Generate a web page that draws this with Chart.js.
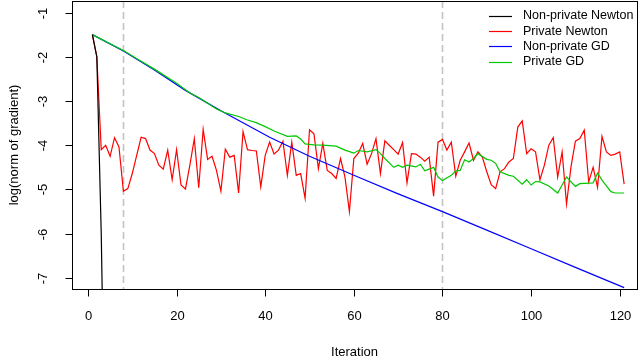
<!DOCTYPE html>
<html>
<head>
<meta charset="utf-8">
<script src="https://cdn.jsdelivr.net/npm/chart.js@4/dist/chart.umd.min.js"></script>
<style>
  html, body { margin: 0; padding: 0; background: #fff; }
  #wrap { width: 640px; height: 362px; }
</style>
</head>
<body>
<div id="wrap"><canvas id="chart" width="640" height="362"></canvas></div>
<script>
// --- data ---
// non-private Newton: drops off the plot after 3 iterations
const newtonIter = [1, 2, 3, 4];
const nonPrivateNewton = [-1.5, -2.0, -6.0, -12.0];

// private Newton, one value per iteration (1..121)
const privateNewton = [
  -1.5, -2.0, -4.1, -4.0, -4.25, -3.83, -4.04, -5.04, -4.98, -4.64,
  -4.23, -3.82, -3.85, -4.11, -4.19, -4.45, -4.54, -4.11, -4.78, -4.10,
  -4.90, -4.99, -4.45, -3.85, -4.96, -3.64, -4.32, -4.25, -4.57, -5.04,
  -4.09, -4.27, -4.23, -5.08, -3.69, -4.10, -4.12, -4.13, -4.94, -4.23,
  -3.93, -4.20, -4.11, -3.91, -4.68, -3.93, -4.68, -4.64, -5.20, -3.65,
  -3.74, -4.53, -3.96, -4.57, -4.64, -4.75, -4.30, -4.72, -5.50, -4.30,
  -4.18, -3.96, -4.43, -4.19, -3.85, -4.64, -3.90, -4.00, -4.10, -4.20,
  -3.94, -4.85, -4.19, -4.20, -4.27, -4.36, -4.27, -5.15, -3.93, -3.87,
  -4.11, -3.93, -4.70, -4.34, -4.15, -3.95, -4.34, -4.15, -4.27, -4.60,
  -4.89, -4.98, -4.60, -4.53, -4.38, -4.30, -3.59, -3.45, -4.19, -4.08,
  -4.15, -4.78, -4.45, -4.00, -3.83, -4.72, -4.15, -5.33, -4.49, -3.91,
  -3.85, -3.66, -4.83, -4.50, -4.95, -3.80, -4.15, -4.23, -4.20, -4.15,
  -4.88
];

// non-private GD
const gdIter = [1, 8, 15, 22, 30, 41, 50, 60, 70, 80, 90, 100, 110, 121];
const nonPrivateGD = [-1.5, -1.87, -2.3, -2.76, -3.22, -3.82, -4.25, -4.68, -5.1, -5.5, -5.92, -6.34, -6.76, -7.22];

// private GD
const privGdIter = [
  1, 8, 12, 15, 20, 23, 25, 27, 29, 31, 34, 36, 38, 40, 42, 45, 47, 48, 49, 51,
  53, 56, 58, 60, 61, 63, 65, 66, 67, 69, 70, 71, 72, 74, 75, 76, 78, 79, 80, 82,
  83, 84, 85, 86, 87, 88, 90, 91, 92, 93, 95, 96, 98, 99, 100, 101, 102, 104, 106, 108,
  110, 111, 114, 115, 116, 118, 119, 121
];
const privateGD = [
  -1.5, -1.86, -2.1, -2.28, -2.6, -2.82, -2.92, -3.05, -3.18, -3.27, -3.35, -3.43, -3.49, -3.58, -3.68, -3.8, -3.79, -3.86, -3.97, -3.99,
  -4.0, -4.02, -4.11, -4.18, -4.12, -4.15, -4.1, -4.19, -4.3, -4.5, -4.45, -4.5, -4.45, -4.49, -4.43, -4.58, -4.5, -4.72, -4.8, -4.68,
  -4.58, -4.57, -4.33, -4.38, -4.3, -4.19, -4.32, -4.34, -4.41, -4.6, -4.68, -4.7, -4.88, -4.78, -4.9, -4.82, -4.83, -4.92, -5.08, -4.72,
  -4.93, -4.87, -4.85, -4.63, -4.79, -5.05, -5.08, -5.08
];

const xTicks = [0, 20, 40, 60, 80, 100, 120];
const yTicks = [-7, -6, -5, -4, -3, -2, -1];
const cutIters = [8, 80];   // dashed vertical markers

const toPoints = (xs, ys) => ys.map((y, i) => ({ x: xs[i], y: y }));
const privIter = privateNewton.map((v, i) => i + 1);

const FONT = '"Liberation Sans", Arial, sans-serif';

// draws R-style box, ticks, labels, titles, legend and dashed markers
const rStylePlugin = {
  id: 'rStyle',
  beforeDatasetsDraw(chart) {
    const { ctx, chartArea: a, scales: { x } } = chart;
    ctx.save();
    ctx.strokeStyle = '#c4c4c4';
    ctx.lineWidth = 1.6;
    ctx.setLineDash([7, 4]);
    cutIters.forEach(v => {
      const px = Math.round(x.getPixelForValue(v)) + 0.5;
      ctx.beginPath();
      ctx.moveTo(px, a.top);
      ctx.lineTo(px, a.bottom);
      ctx.stroke();
    });
    ctx.restore();
  },
  afterDraw(chart) {
    const { ctx, chartArea: a, scales: { x, y } } = chart;
    ctx.save();
    ctx.strokeStyle = '#000';
    ctx.fillStyle = '#000';
    ctx.lineWidth = 1;

    // box
    ctx.strokeRect(Math.round(a.left) + 0.5, Math.round(a.top) + 0.5,
                   Math.round(a.right - a.left), Math.round(a.bottom - a.top));

    // x ticks + labels
    ctx.font = '13px ' + FONT;
    ctx.textAlign = 'center';
    ctx.textBaseline = 'middle';
    const by = Math.round(a.bottom) + 0.5;
    xTicks.forEach(v => {
      const px = Math.round(x.getPixelForValue(v)) + 0.5;
      ctx.beginPath();
      ctx.moveTo(px, by);
      ctx.lineTo(px, by + 7);
      ctx.stroke();
      ctx.fillText(String(v), px, 316);
    });

    // y ticks + rotated labels
    const lx = Math.round(a.left) + 0.5;
    yTicks.forEach(v => {
      const py = Math.round(y.getPixelForValue(v)) + 0.5;
      ctx.beginPath();
      ctx.moveTo(lx, py);
      ctx.lineTo(lx - 7, py);
      ctx.stroke();
      ctx.save();
      ctx.translate(43, py);
      ctx.rotate(-Math.PI / 2);
      ctx.fillText(String(v), 0, 0);
      ctx.restore();
    });

    // axis titles
    ctx.fillText('Iteration', (a.left + a.right) / 2, 352);
    ctx.save();
    ctx.translate(14, (a.top + a.bottom) / 2);
    ctx.rotate(-Math.PI / 2);
    ctx.fillText('log(norm of gradient)', 0, 0);
    ctx.restore();

    // legend
    ctx.font = '12.5px ' + FONT;
    ctx.textAlign = 'left';
    chart.data.datasets.forEach((ds, i) => {
      const ly = 16 + i * 15.2;
      ctx.strokeStyle = ds.borderColor;
      ctx.lineWidth = 1.2;
      ctx.beginPath();
      ctx.moveTo(489, Math.round(ly) + 0.5);
      ctx.lineTo(512, Math.round(ly) + 0.5);
      ctx.stroke();
      ctx.fillText(ds.label, 523, ly);
    });
    ctx.restore();
  }
};

const lineStyle = { borderWidth: 1.2, pointRadius: 0, tension: 0, fill: false };

new Chart(document.getElementById('chart'), {
  type: 'line',
  data: {
    datasets: [
      { label: 'Non-private Newton', data: toPoints(newtonIter, nonPrivateNewton), borderColor: '#000000', order: 0, ...lineStyle },
      { label: 'Private Newton', data: toPoints(privIter, privateNewton), borderColor: '#ff0000', order: 3, ...lineStyle },
      { label: 'Non-private GD', data: toPoints(gdIter, nonPrivateGD), borderColor: '#0000ff', order: 2, ...lineStyle },
      { label: 'Private GD', data: toPoints(privGdIter, privateGD), borderColor: '#00c800', order: 1, ...lineStyle }
    ]
  },
  options: {
    responsive: false,
    animation: false,
    devicePixelRatio: 1,
    layout: { padding: { left: 72, top: 1, right: 3, bottom: 73 } },
    scales: {
      x: { type: 'linear', display: false, min: -3.6, max: 123.9 },
      y: { type: 'linear', display: false, min: -7.25, max: -0.74 }
    },
    plugins: {
      legend: { display: false },
      tooltip: { enabled: false }
    }
  },
  plugins: [rStylePlugin]
});
</script>
</body>
</html>
